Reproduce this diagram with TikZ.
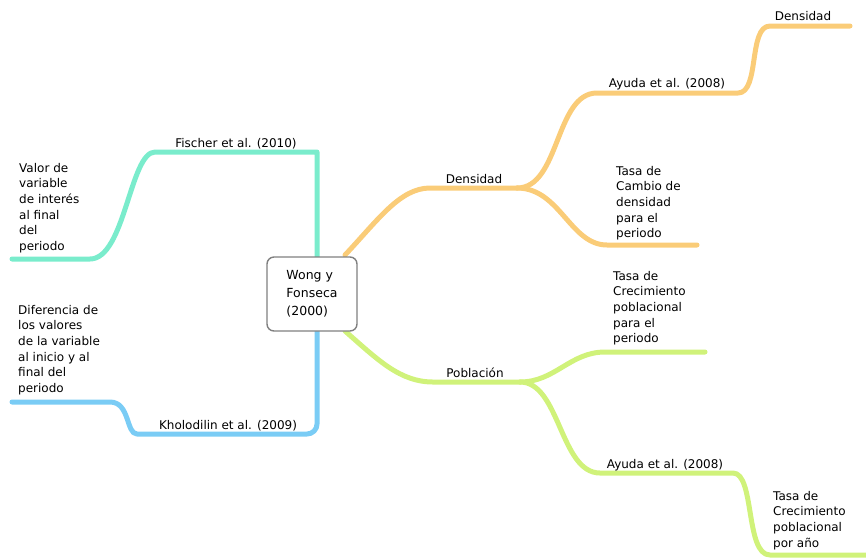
\documentclass[tikz,border=0pt]{standalone}
\usepackage{fontspec}
\setmainfont{DejaVu Sans}
\begin{document}
\begin{tikzpicture}[x=1pt,y=-1pt,
  branch/.style={line width=5pt,line cap=round,line join=round},
  lbl/.style={font=\fontsize{12}{15.6}\selectfont,inner sep=0pt,text=black},
  leaf/.style={lbl,align=left,anchor=north west},
  rootbox/.style={draw=black!50,line width=1.4pt,rounded corners=7pt,fill=white,
     minimum width=90pt,minimum height=74pt,align=left,font=\fontsize{12.5}{18}\selectfont,text=black}]
\definecolor{cteal}{RGB}{122,236,204}
\definecolor{cblue}{RGB}{122,204,245}
\definecolor{corange}{RGB}{250,204,120}
\definecolor{cgreen}{RGB}{208,242,122}
\useasboundingbox (0,0) rectangle (866,558);

% coordinates
\coordinate (tA) at (317,257);
\coordinate (tB) at (165,152);
\coordinate (tC) at (90,259);
\coordinate (tD) at (12,259);
\coordinate (bA) at (317,331);
\coordinate (bB) at (147,434);
\coordinate (bC) at (110,402);
\coordinate (bD) at (12,402);
\coordinate (oA) at (345,255);
\coordinate (oB) at (430,188);
\coordinate (oC) at (517,188);
\coordinate (oD) at (597,93);
\coordinate (oE) at (738,93);
\coordinate (oF) at (770,26);
\coordinate (oG) at (850,26);
\coordinate (oH) at (607,245);
\coordinate (oI) at (697,245);
\coordinate (gA) at (345,331);
\coordinate (gB) at (433,382);
\coordinate (gC) at (520,382);
\coordinate (gD) at (605,352);
\coordinate (gE) at (705,352);
\coordinate (gF) at (600,473);
\coordinate (gG) at (733,473);
\coordinate (gH) at (770,555);
\coordinate (gI) at (870,555);

% teal
\draw[branch,cteal] (tA) -- (tA |- tB) [rounded corners=10pt] -- (tB) [sharp corners]
  .. controls (130,152) and (125,259) .. (tC) -- (tD);
% blue
\draw[branch,cblue] (bA) [rounded corners=10pt] -- (bA |- bB) -- (bB) [sharp corners]
  .. controls (126,434) and (130,402) .. (bC) -- (bD);
% orange
\draw[branch,corange] (oA) .. controls (378,220) and (400,188) .. (oB) -- (oC);
\draw[branch,corange] (oC) .. controls (560,188) and (555,93) .. (oD) -- (oE)
  .. controls (760,93) and (748,26) .. (oF) -- (oG);
\draw[branch,corange] (oC) .. controls (560,188) and (570,245) .. (oH) -- (oI);
% green
\draw[branch,cgreen] (gA) .. controls (378,360) and (400,382) .. (gB) -- (gC);
\draw[branch,cgreen] (gC) .. controls (555,382) and (570,352) .. (gD) -- (gE);
\draw[branch,cgreen] (gC) .. controls (560,382) and (560,473) .. (gF) -- (gG)
  .. controls (755,473) and (745,555) .. (gH) -- (gI);

% root
\node[rootbox] (root) at (312,294) {Wong y\\Fonseca\\(2000)};

% labels
\node[lbl,anchor=base] (fischer) at (236,147) {Fischer et al. (2010)};
\node[lbl,anchor=base] (kholo) at (228,429) {Kholodilin et al. (2009)};
\node[lbl,anchor=base] (dens1) at (474,183) {Densidad};
\node[lbl,anchor=base] (ayuda1) at (667,87) {Ayuda et al. (2008)};
\node[lbl,anchor=base] (dens2) at (803,20) {Densidad};
\node[lbl,anchor=base] (pobl) at (475,377) {Población};
\node[lbl,anchor=base] (ayuda2) at (665,468) {Ayuda et al. (2008)};

\node[leaf] (valor) at (19,163) {Valor de\\variable\\de interés\\al final\\del\\periodo};
\node[leaf] (dif) at (18,305) {Diferencia de\\los valores\\de la variable\\al inicio y al\\final del\\periodo};
\node[leaf] (tcambio) at (616,166) {Tasa de\\Cambio de\\densidad\\para el\\periodo};
\node[leaf] (tcrec1) at (613,271) {Tasa de\\Crecimiento\\poblacional\\para el\\periodo};
\node[leaf] (tcrec2) at (773,491) {Tasa de\\Crecimiento\\poblacional\\por año};
\end{tikzpicture}
\end{document}
